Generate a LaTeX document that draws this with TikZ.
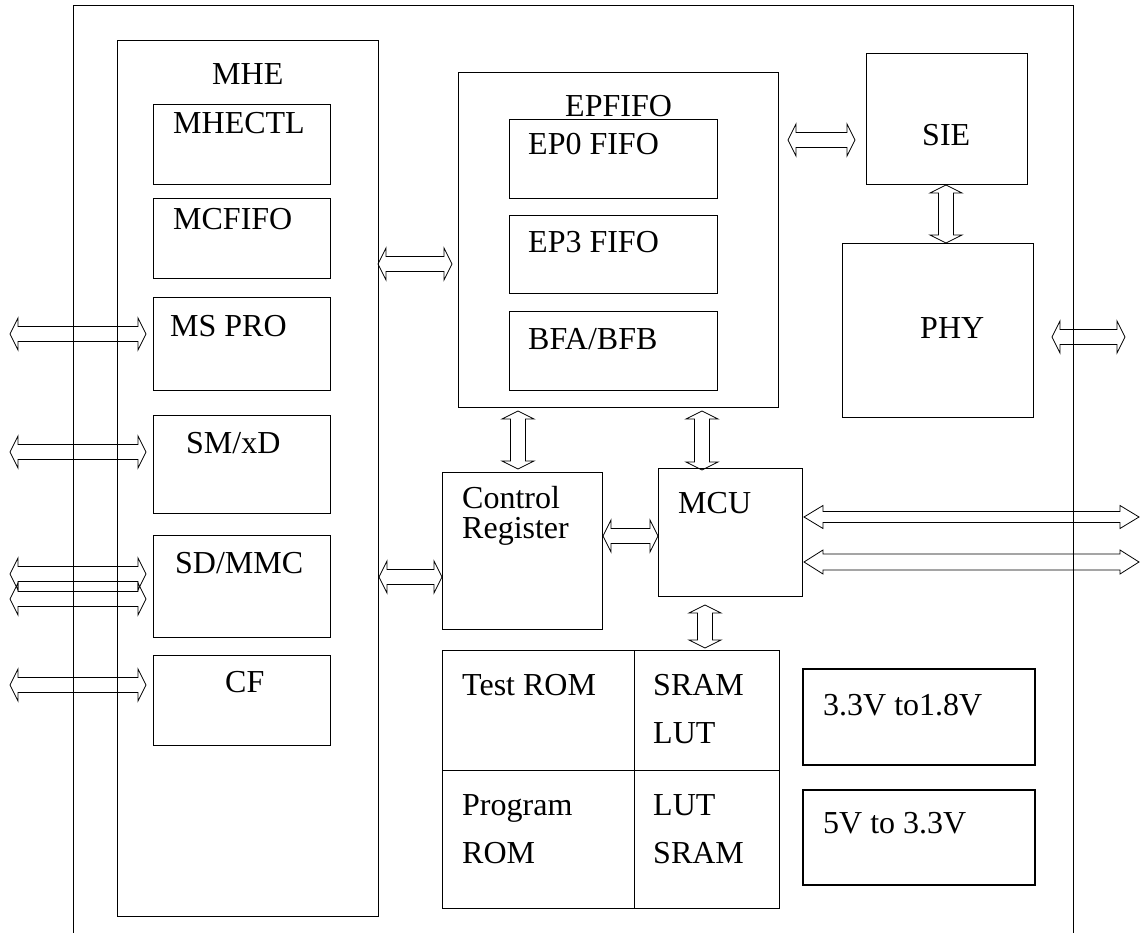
\documentclass[tikz,border=0pt]{standalone}
\usepackage{fontspec}
\setmainfont{Liberation Serif}
\usetikzlibrary{calc}

\newcommand\bushl{8pt}
\newcommand\bushw{16pt}
\newcommand\bussw{7.5pt}

\begin{document}
\begin{tikzpicture}[x=1pt, y=-1pt, font=\fontsize{32}{32}\selectfont]
  \tikzstyle{blk}=[draw, line width=1pt, anchor=north west, inner sep=0pt]
  \tikzstyle{reg}=[blk, line width=2pt]
  \tikzstyle{lbl}=[anchor=base west, inner sep=0pt]
  \tikzset{headlen/.code={\def\bushl{#1}}, headw/.code={\def\bushw{#1}},
           shaftw/.code={\def\bussw{#1}}}
  % hollow double-headed bus arrow between two points
  \tikzstyle{bus}=[draw, line width=0.8pt, line join=miter, to path={
      let \p1=(\tikztostart), \p2=(\tikztotarget),
          \n1={veclen(\x2-\x1,\y2-\y1)}, \n2={atan2(\y2-\y1,\x2-\x1)} in
      {[shift={(\tikztostart)}, rotate=\n2]
        (0pt,0pt) -- (\bushl,\bushw) -- (\bushl,\bussw)
        -- ({\n1-\bushl},\bussw) -- ({\n1-\bushl},\bushw)
        -- ({\n1},0pt) -- ({\n1-\bushl},-\bushw)
        -- ({\n1-\bushl},-\bussw) -- (\bushl,-\bussw)
        -- (\bushl,-\bushw) -- cycle}}]

  \useasboundingbox (0,0) rectangle (1140,933);

  % ================= chip outline =================
  \node[blk, minimum width=1000pt, minimum height=935pt] (chip) at (73,5) {};

  % ================= MHE block =================
  \node[blk, minimum width=261pt, minimum height=876pt] (mhe)    at (117,40)  {};
  \node[blk, minimum width=177pt, minimum height=80pt]  (mhectl) at (153,104) {};
  \node[blk, minimum width=177pt, minimum height=80pt]  (mcfifo) at (153,198) {};
  \node[blk, minimum width=177pt, minimum height=93pt]  (mspro)  at (153,297) {};
  \node[blk, minimum width=177pt, minimum height=98pt]  (smxd)   at (153,415) {};
  \node[blk, minimum width=177pt, minimum height=102pt] (sdmmc)  at (153,535) {};
  \node[blk, minimum width=177pt, minimum height=90pt]  (cf)     at (153,655) {};
  \node[lbl] (mhe-t)    at (212,85)  {MHE};
  \node[lbl] (mhectl-t) at (173,134) {MHECTL};
  \node[lbl] (mcfifo-t) at (173,230) {MCFIFO};
  \node[lbl] (mspro-t)  at (170,336) {MS PRO};
  \node[lbl] (smxd-t)   at (186,453) {SM/xD};
  \node[lbl] (sdmmc-t)  at (175,573) {SD/MMC};
  \node[lbl] (cf-t)     at (225,692) {CF};

  % ================= EPFIFO block =================
  \node[blk, minimum width=320pt, minimum height=335pt] (epfifo) at (458,72)  {};
  \node[blk, minimum width=208pt, minimum height=79pt]  (ep0)    at (509,119) {};
  \node[blk, minimum width=208pt, minimum height=78pt]  (ep3)    at (509,215) {};
  \node[blk, minimum width=208pt, minimum height=79pt]  (bfab)   at (509,311) {};
  \node[lbl] (epfifo-t) at (565,117) {EPFIFO};
  \node[lbl] (ep0-t)    at (528,155) {EP0 FIFO};
  \node[lbl] (ep3-t)    at (528,253) {EP3 FIFO};
  \node[lbl] (bfab-t)   at (528,349) {BFA/BFB};

  % ================= SIE / PHY =================
  \node[blk, minimum width=161pt, minimum height=131pt] (sie) at (866,53)  {};
  \node[blk, minimum width=191pt, minimum height=174pt] (phy) at (842,243) {};
  \node[lbl] (sie-t) at (922,146) {SIE};
  \node[lbl] (phy-t) at (920,338) {PHY};

  % ================= control register / MCU =================
  \node[blk, minimum width=160pt, minimum height=157pt] (ctrl) at (442,472) {};
  \node[blk, minimum width=144pt, minimum height=128pt] (mcu)  at (658,468) {};
  \node[lbl] (ctrl-t1) at (462,508) {Control};
  \node[lbl] (ctrl-t2) at (462,538) {Register};
  \node[lbl] (mcu-t)   at (678,513) {MCU};

  % ================= memories =================
  \node[blk, minimum width=192pt, minimum height=120pt] (trom) at (442,650) {};
  \node[blk, minimum width=145pt, minimum height=120pt] (sl)   at (634,650) {};
  \node[blk, minimum width=192pt, minimum height=138pt] (prom) at (442,770) {};
  \node[blk, minimum width=145pt, minimum height=138pt] (ls)   at (634,770) {};
  \node[lbl] (trom-t)  at (462,695) {Test ROM};
  \node[lbl] (sl-t1)   at (653,695) {SRAM};
  \node[lbl] (sl-t2)   at (653,743) {LUT};
  \node[lbl] (prom-t1) at (462,815) {Program};
  \node[lbl] (prom-t2) at (462,863) {ROM};
  \node[lbl] (ls-t1)   at (653,815) {LUT};
  \node[lbl] (ls-t2)   at (653,863) {SRAM};

  % ================= regulators =================
  \node[reg, minimum width=232pt, minimum height=96pt] (v18) at (802,668) {};
  \node[reg, minimum width=232pt, minimum height=95pt] (v33) at (802,789) {};
  \node[lbl] (v18-t) at (823,715) {3.3V to1.8V};
  \node[lbl] (v33-t) at (823,833) {5V to 3.3V};

  % ================= card buses (left) =================
  \coordinate (ms-in)  at (10,334);
  \coordinate (sm-in)  at (10,452);
  \coordinate (sd-in1) at (10,574);
  \coordinate (sd-in2) at (10,599);
  \coordinate (cf-in)  at (10,685);
  \draw[bus] (ms-in)  to ($(ms-in -| mspro.west)+(-7,0)$);
  \draw[bus] (sm-in)  to ($(sm-in -| smxd.west)+(-7,0)$);
  \draw[bus] (sd-in1) to ($(sd-in1 -| sdmmc.west)+(-7,0)$);
  \draw[bus] (sd-in2) to ($(sd-in2 -| sdmmc.west)+(-7,0)$);
  \draw[bus] (cf-in)  to ($(cf-in -| cf.west)+(-7,0)$);

  % ================= internal buses =================
  \draw[bus] ($(mhe.north east)+(-1,224)$) to ($(epfifo.north west)+(-6,192)$);
  \draw[bus] ($(mhe.north east)+(0,537)$)  to ($(ctrl.north west)+(0,105)$);
  \draw[bus] ($(epfifo.north east)+(9,68)$) to ($(sie.north west)+(-11,87)$);
  \draw[bus] ($(sie.south west)+(80,0)$)    to ($(phy.north west)+(104,0)$);
  \draw[bus] ($(epfifo.south west)+(60,3)$) to ($(ctrl.north west)+(76,-3)$);
  \draw[bus] ($(epfifo.south west)+(244,3)$) to ($(mcu.north west)+(44,2)$);
  \draw[bus] ($(ctrl.north east)+(0,64)$)   to ($(mcu.north west)+(0,68)$);
  \draw[bus] ($(mcu.south west)+(47,8)$)    to ($(sl.north west)+(71,-2)$);

  % ================= external buses (right) =================
  \draw[bus] ($(phy.north east)+(18,94)$) to ($(chip.north east)+(51,332)$);
  \draw[bus, headlen=19pt, headw=11.5pt, shaftw=5.5pt]
    ($(mcu.north east)+(1,49)$) to ($(chip.north east)+(65,512)$);
  \draw[bus, headlen=19pt, headw=12pt, shaftw=8pt]
    ($(mcu.north east)+(1,94)$) to ($(chip.north east)+(65,557)$);
\end{tikzpicture}
\end{document}
